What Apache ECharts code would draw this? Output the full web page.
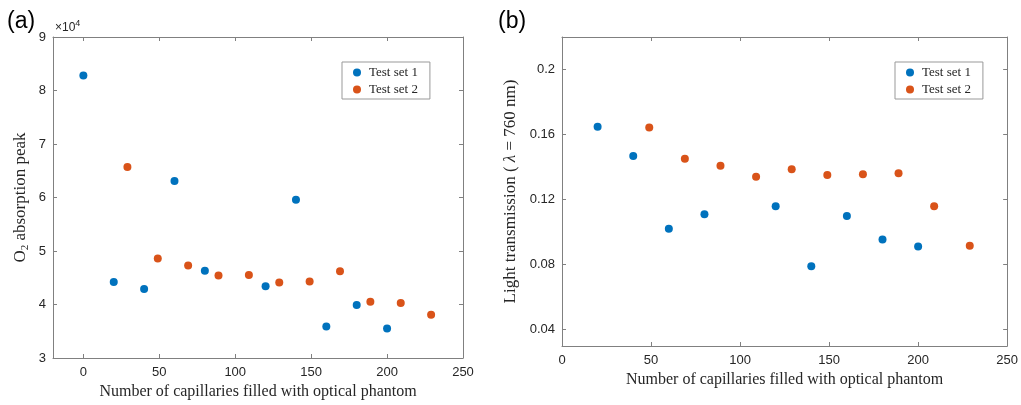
<!DOCTYPE html>
<html><head><meta charset="utf-8">
<script src="https://cdn.jsdelivr.net/npm/echarts@6/dist/echarts.min.js"></script>
<style>html,body{margin:0;padding:0;background:#fff}#c{width:1021px;height:405px}</style>
</head><body><div id="c"></div>
<script>
// Panel (a): O2 absorption peak (x1e4)
const aSet1X = [0, 20, 40, 60, 80, 120, 140, 160, 180, 200];
const aSet1Y = [8.28, 4.42, 4.29, 6.31, 4.63, 4.34, 5.96, 3.59, 3.99, 3.55];
const aSet2X = [29, 49, 69, 89, 109, 129, 149, 169, 189, 209, 229];
const aSet2Y = [6.57, 4.86, 4.73, 4.54, 4.55, 4.41, 4.43, 4.62, 4.05, 4.03, 3.81];
// Panel (b): Light transmission
const bSet1X = [20, 40, 60, 80, 120, 140, 160, 180, 200];
const bSet1Y = [0.1648, 0.1469, 0.1021, 0.1110, 0.1159, 0.0791, 0.1099, 0.0955, 0.0912];
const bSet2X = [49, 69, 89, 109, 129, 149, 169, 189, 209, 229];
const bSet2Y = [0.1644, 0.1451, 0.1408, 0.1340, 0.1387, 0.1352, 0.1356, 0.1362, 0.1159, 0.0916];
// Tick labels
const aXTicks = [0, 50, 100, 150, 200, 250];
const aYTicks = [3, 4, 5, 6, 7, 8, 9];
const bXTicks = [0, 50, 100, 150, 200, 250];
const bYTicks = [0.04, 0.08, 0.12, 0.16, 0.2];
const seriesNames = ['Test set 1', 'Test set 2'];

const BLUE = '#0072BD', ORANGE = '#D95319';
const AX = '#808080', TXT = '#262626';
const SERIF = '"Liberation Serif", "Times New Roman", serif';
const SANS = '"Liberation Sans", Arial, sans-serif';
const zip = (xs, ys) => xs.map((x, i) => [x, ys[i]]);

function xAx(grid, min, max, ticks, name, top) {
  return {
    type: 'value', gridIndex: grid, min, max, position: top ? 'top' : 'bottom',
    axisLine: {show: true, onZero: false, lineStyle: {color: AX, width: 1}},
    axisTick: {show: true, inside: true, length: 4, customValues: ticks, lineStyle: {color: AX}},
    axisLabel: {show: !top, customValues: ticks, color: TXT, fontFamily: SANS, fontSize: 13, margin: 8},
    splitLine: {show: false},
    name: top ? '' : name, nameLocation: 'middle', nameGap: 26,
    nameTextStyle: {color: TXT, fontFamily: SERIF, fontSize: 16}
  };
}
function yAx(grid, min, max, ticks, name, gap, right, rich) {
  return {
    type: 'value', gridIndex: grid, min, max, position: right ? 'right' : 'left',
    axisLine: {show: true, onZero: false, lineStyle: {color: AX, width: 1}},
    axisTick: {show: true, inside: true, length: 4, customValues: ticks, lineStyle: {color: AX}},
    axisLabel: {show: !right, customValues: ticks, color: TXT, fontFamily: SANS, fontSize: 13, margin: 7},
    splitLine: {show: false},
    name: right ? '' : name, nameLocation: 'middle', nameGap: gap,
    nameTextStyle: {color: TXT, fontFamily: SERIF, fontSize: 17, rich: rich}
  };
}
const richBase = {
  n: {fontFamily: SERIF, fontSize: 17, color: TXT, lineHeight: 20},
  sub: {fontFamily: SERIF, fontSize: 11, color: TXT, lineHeight: 13, verticalAlign: 'bottom'},
  it: {fontFamily: SERIF, fontSize: 17, color: TXT, fontStyle: 'italic', lineHeight: 20}
};
function sc(name, x, y, data, color) {
  return {name, type: 'scatter', xAxisIndex: x, yAxisIndex: y, data, symbol: 'circle',
    symbolSize: 8, itemStyle: {color, opacity: 1}, emphasis: {disabled: true}};
}
function leg(left, top) {
  return {
    data: seriesNames, orient: 'vertical', left, top,
    backgroundColor: '#fff', borderColor: '#999', borderWidth: 1, borderRadius: 0,
    padding: [4, 12, 3, 11], itemWidth: 8, itemHeight: 8, itemGap: 4, icon: 'circle',
    textStyle: {fontFamily: SERIF, fontSize: 13, color: TXT, padding: [0, 0, 0, 3]},
    selectedMode: false
  };
}

const chart = echarts.init(document.getElementById('c'));
chart.setOption({
  animation: false,
  backgroundColor: '#fff',
  grid: [
    {left: 53, top: 37, width: 410, height: 324},
    {left: 562, top: 37, width: 452, height: 309}
  ],
  xAxis: [
    xAx(0, -20, 250, aXTicks, 'Number of capillaries filled with optical phantom', false),
    xAx(0, -20, 250, aXTicks, '', true),
    xAx(1, 0, 250, bXTicks, 'Number of capillaries filled with optical phantom', false),
    xAx(1, 0, 250, bXTicks, '', true)
  ],
  yAxis: [
    yAx(0, 3, 9, aYTicks, '{n|O}{sub|2}{n| absorption peak}', 22, false, richBase),
    yAx(0, 3, 9, aYTicks, '', 0, true),
    yAx(1, 0.03, 0.22, bYTicks, '{n|Light transmission ( }{it|λ}{n| = 760 nm)}', 41, false, richBase),
    yAx(1, 0.03, 0.22, bYTicks, '', 0, true)
  ],
  legend: [leg(342, 62), leg(895, 62)],
  series: [
    sc(seriesNames[0], 0, 0, zip(aSet1X, aSet1Y), BLUE),
    sc(seriesNames[1], 0, 0, zip(aSet2X, aSet2Y), ORANGE),
    sc(seriesNames[0], 2, 2, zip(bSet1X, bSet1Y), BLUE),
    sc(seriesNames[1], 2, 2, zip(bSet2X, bSet2Y), ORANGE)
  ],
  graphic: [
    {type: 'text', left: 7, top: 10, style: {text: '(a)', font: '23px ' + SANS, fill: '#000'}},
    {type: 'text', left: 498, top: 10, style: {text: '(b)', font: '23px ' + SANS, fill: '#000'}},
    {type: 'text', left: 55, top: 19, style: {
      text: '{x|×10}{s|4}',
      rich: {
        x: {fontFamily: SANS, fontSize: 12, fill: TXT, lineHeight: 15, verticalAlign: 'bottom'},
        s: {fontFamily: SANS, fontSize: 9, fill: TXT, lineHeight: 15, verticalAlign: 'top'}
      }
    }}
  ]
});
</script></body></html>
